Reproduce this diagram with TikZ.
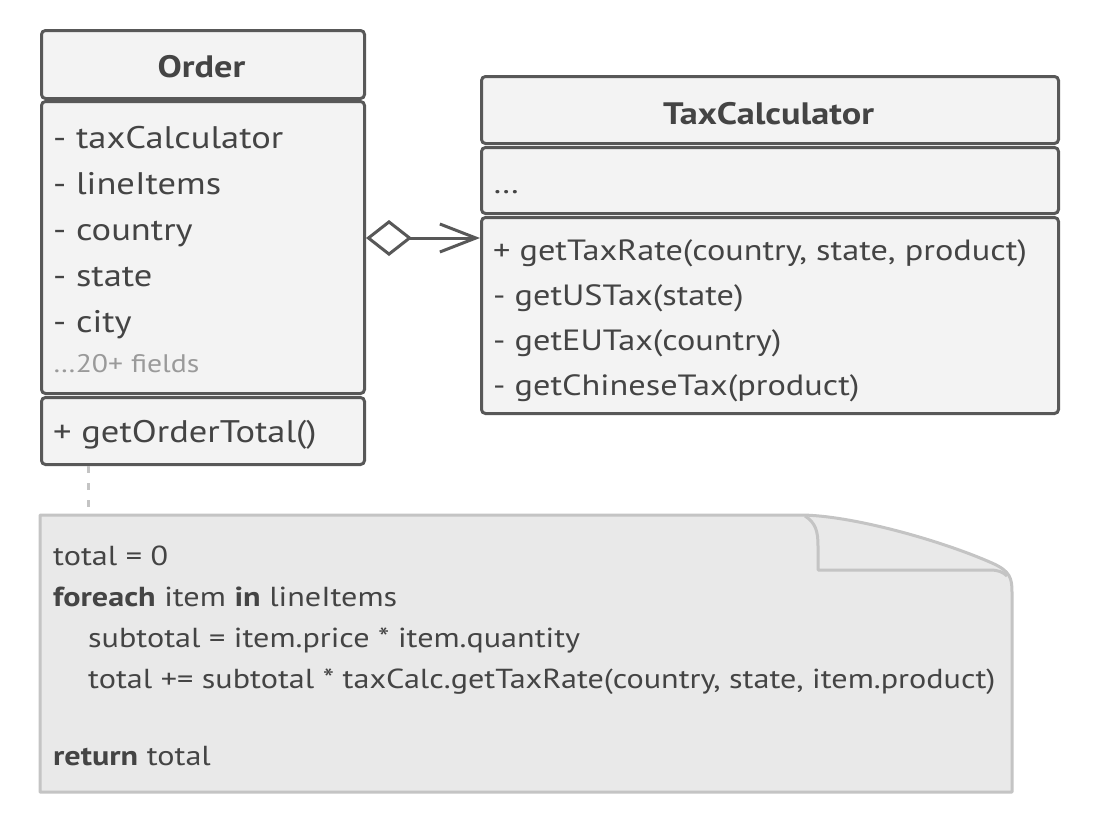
\documentclass[tikz,border=0pt]{standalone}
\usepackage{fontspec}
\setmainfont{PT Sans}[FakeStretch=1.17]
\usetikzlibrary{arrows.meta}
\definecolor{umlline}{HTML}{585858}
\definecolor{umlfill}{HTML}{F3F3F3}
\definecolor{umltext}{HTML}{444444}
\definecolor{notefill}{HTML}{E9E9E9}
\definecolor{noteline}{HTML}{C4C4C4}
\definecolor{mutedtext}{HTML}{9A9A9A}
\tikzset{
  compart/.style={draw=umlline, fill=umlfill, line width=3pt, rounded corners=4pt,
    rectangle, inner sep=0pt, anchor=north west},
  title/.style={font=\fontsize{31}{36}\selectfont\bfseries, text=umltext, inner sep=0pt, anchor=base},
  member/.style={font=\fontsize{31.2}{36}\selectfont, text=umltext, inner sep=0pt, anchor=base west},
  tmember/.style={font=\fontsize{29.3}{34}\selectfont, text=umltext, inner sep=0pt, anchor=base west},
  muted/.style={font=\fontsize{25.4}{30}\selectfont, text=mutedtext, inner sep=0pt, anchor=base west},
  code/.style={font=\fontsize{27.5}{32}\selectfont, text=umltext, inner sep=0pt, anchor=base west},
  aggregation/.style={draw=umlline, line width=3pt,
    {Diamond[open,length=46pt,width=36pt]}-{Straight Barb[length=36pt,width=28pt]}},
  notelink/.style={draw=noteline, line width=3pt, dash pattern=on 7pt off 10pt}
}
\begin{document}
\begin{tikzpicture}[x=1pt,y=-1pt]
\useasboundingbox[fill=white] (0,0) rectangle (1093,825);

% class Order
\node[compart, minimum width=323pt, minimum height=68pt] (ohead) at (40,29) {};
\node[compart, minimum width=323pt, minimum height=292pt] (ofields) at (40,100) {};
\node[compart, minimum width=323pt, minimum height=67pt] (omethods) at (40,396) {};
\node[title] (oname) at (201.5,77) {Order};
\node[member] (of1) at (53,148) {- taxCalculator};
\node[member] (of2) at (53,194) {- lineItems};
\node[member] (of3) at (53,240) {- country};
\node[member] (of4) at (53,286) {- state};
\node[member] (of5) at (53,332) {- city};
\node[muted] (of6) at (53,372) {…20+ fields};
\node[member] (om1) at (53,442) {+ getOrderTotal()};

% class TaxCalculator
\node[compart, minimum width=577pt, minimum height=67pt] (thead) at (480,75) {};
\node[compart, minimum width=577pt, minimum height=66pt] (tfields) at (480,146) {};
\node[compart, minimum width=577pt, minimum height=196pt] (tmethods) at (480,216) {};
\node[title] (tname) at (768.5,124) {TaxCalculator};
\node[tmember] (tf1) at (493,193) {…};
\node[tmember] (tm1) at (493,260) {+ getTaxRate(country, state, product)};
\node[tmember] (tm2) at (493,305) {- getUSTax(state)};
\node[tmember] (tm3) at (493,350) {- getEUTax(country)};
\node[tmember] (tm4) at (493,395) {- getChineseTax(product)};

% aggregation Order <>-> TaxCalculator
\coordinate (aggy) at (420,238);
\draw[aggregation] (ofields.east |- aggy) -- (tmethods.west |- aggy);

% note with folded corner
\draw[draw=noteline, fill=notefill, line width=3pt, line join=round]
  (40,515) -- (800,515)
  .. controls (850,515) and (940,540) .. (992,563)
  .. controls (1010,571) and (1012,578) .. (1012,592)
  -- (1012,792) -- (40,792) -- cycle;
\draw[draw=noteline, line width=3pt, line join=round]
  (805,516) .. controls (816,523) and (818,532) .. (818,546)
  -- (818,570) -- (990,570)
  .. controls (998,570) and (1003,572) .. (1007,576);
\coordinate (notetop) at (88,515);
\draw[notelink] (omethods.south -| notetop) -- (notetop);

\node[code] (n1) at (53,565) {total = 0};
\node[code] (n2) at (53,606) {\textbf{foreach} item \textbf{in} lineItems};
\node[code] (n3) at (88,647) {subtotal = item.price * item.quantity};
\node[code] (n4) at (88,688) {total += subtotal * taxCalc.getTaxRate(country, state, item.product)};
\node[code] (n5) at (53,765) {\textbf{return} total};
\end{tikzpicture}
\end{document}
